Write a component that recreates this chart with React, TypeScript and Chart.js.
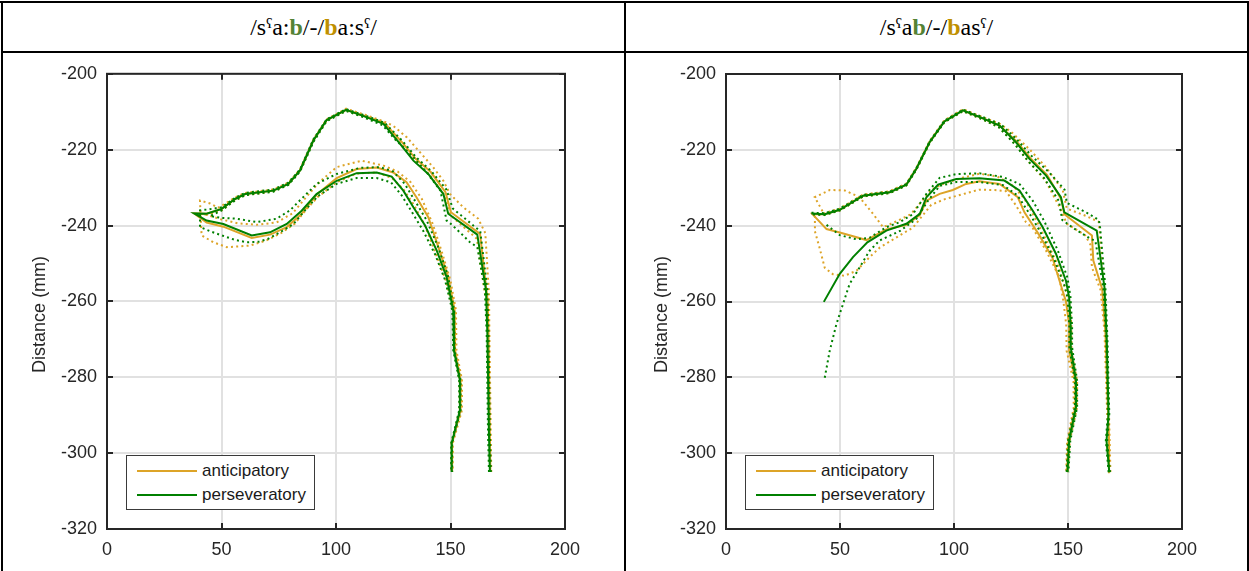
import React, { useEffect, useRef } from 'react';
import { Chart, registerables } from 'chart.js';
Chart.register(...registerables);

type P = [number, number];

const xTickValues = [0, 50, 100, 150, 200];
const xTickLabels = ['0', '50', '100', '150', '200'];
const yTickValues = [-320, -300, -280, -260, -240, -220, -200];
const yTickLabels = ['-320', '-300', '-280', '-260', '-240', '-220', '-200'];
const seriesNames = ['anticipatory', 'perseveratory'];
const yAxisTitle = 'Distance (mm)';

// ---------- LEFT PANEL  /sˤa:b/-/ba:sˤ/ ----------
const L_perMean: P[] = [[167.2,-305],[166.8,-295],[166.1,-268.5],[165.5,-257],[161.7,-242.4],[149,-236.9],[146.9,-231.7],[140.3,-226.4],[133.8,-222.9],[128,-218.5],[120.7,-213.2],[112.7,-211.3],[104.4,-209.5],[95.9,-212.2],[90.1,-217.6],[84.3,-225.5],[79.2,-229],[72.6,-230.8],[60.3,-231.7],[55.9,-233],[50.1,-235.6],[43.5,-236.9],[38,-236.8],[43.5,-238.7],[50.8,-239.6],[63.2,-242.6],[71.2,-241.8],[78.5,-239.6],[85,-236.1],[91.5,-231.7],[100.3,-228.2],[109,-226.2],[117.8,-226],[124.3,-227.1],[129.4,-230.8],[133.8,-235.2],[138.9,-240],[144,-246.6],[148.3,-253.6],[151.2,-262.4],[151.5,-272.9],[154.1,-280.8],[154.1,-288.7],[150.5,-297.4],[150.5,-305]];
const L_perHi: P[] = [[167.6,-305],[167.2,-295],[166.6,-268.5],[166.1,-257],[163,-241.5],[151,-235.5],[148.2,-230.5],[141.5,-225.6],[135,-222],[129,-217.7],[121.2,-212.9],[112.7,-211],[104.4,-209.3],[95.9,-212],[90.1,-217.3],[84.3,-225.2],[79.2,-228.7],[72.6,-230.5],[60.3,-231.4],[55.9,-232.7],[50.1,-235.2],[43.5,-235.8],[40.6,-236],[40.6,-240.4],[45,-241.5],[50.1,-242.6],[56,-243.8],[61,-244.4],[66,-244.3],[70.4,-243.5],[75.5,-241.8],[81.4,-239.6],[87.2,-235.5],[92,-232.3],[100.3,-229],[109,-227.5],[117.8,-227.5],[124,-228.6],[128.6,-232],[133,-236.3],[138,-241.3],[143.2,-247.5],[147.6,-254.3],[150.8,-262.4],[151.2,-272.9],[153.8,-280.8],[153.8,-288.7],[150.3,-297.4],[150.3,-305]];
const L_perLo: P[] = [[166.8,-305],[166.4,-295],[165.8,-268.5],[165,-257],[161.7,-245.7],[158.5,-244.4],[154.1,-241.8],[150,-239.5],[148.3,-238.7],[145.6,-230.8],[139.6,-226],[133.8,-222],[125,-216.8],[120.5,-213.6],[112.7,-211.6],[104.4,-209.8],[95.9,-212.5],[90.1,-218],[84.3,-225.8],[79.2,-229.3],[72.6,-231.1],[60.3,-232],[55.9,-233.4],[50.1,-236],[45,-237.5],[50,-238],[56.6,-238.2],[65.4,-239.1],[74.1,-238.2],[79.9,-236],[85.7,-232.5],[91.6,-229],[100.3,-226.4],[110.5,-224.8],[119.2,-224.6],[125,-225.8],[130,-229],[134.5,-233.5],[139.5,-238.5],[144.5,-245.5],[148.8,-253],[151.6,-262.4],[151.8,-272.9],[154.4,-280.8],[154.4,-288.7],[150.7,-297.4],[150.7,-305]];
const L_antMean: P[] = [[167.4,-305],[167.2,-295],[166.6,-268.5],[166.2,-259.7],[162.9,-242.2],[150.2,-236.5],[147.8,-231.2],[141.4,-225.9],[134.8,-222.4],[128.8,-218],[121.2,-213],[112.7,-211.2],[104.4,-209.5],[95.9,-212.2],[90.1,-217.6],[84.3,-225.5],[79.2,-229],[72.6,-230.8],[60.3,-231.7],[55.9,-233],[50.1,-235.6],[43.5,-236.9],[38,-236.8],[43.5,-239.2],[50.8,-240.3],[63.2,-243.3],[71.2,-242.4],[78.5,-240.4],[85,-236.9],[91.5,-231.9],[100.3,-227.5],[109,-225.1],[117.8,-224.7],[125,-226],[130.8,-228.6],[135.2,-232.6],[140.3,-237.8],[144.7,-245.7],[149,-253.6],[151.8,-262.4],[152,-272.9],[154.4,-280.8],[154.4,-288.7],[150.7,-297.4],[150.7,-305]];
const L_antHi: P[] = [[167.8,-305],[167.6,-295],[167,-268.5],[166.8,-258],[165.2,-242],[162.1,-238.2],[155.6,-235.2],[149.8,-231.7],[146.9,-228.2],[142.5,-224.7],[136.7,-220.7],[131,-216.8],[125,-213.7],[120.7,-212.5],[112.7,-210.8],[104.4,-209.2],[95.9,-212],[90.1,-217.3],[84.3,-225.2],[79.2,-228.7],[72.6,-230.5],[60.3,-231.4],[55.9,-232.6],[50.1,-234.8],[48.5,-235.3],[45,-234.2],[40.6,-233.4],[41.3,-242.6],[46.4,-244.4],[52.3,-245.7],[62.4,-245.3],[69.7,-243.9],[76,-242],[82,-239.5],[87,-235.8],[92,-232.5],[100.3,-228.6],[109,-226.3],[117.8,-226],[124.5,-227.5],[129.5,-230.5],[134,-234.5],[138.8,-240],[143.5,-247.3],[148,-254.5],[151.2,-262.4],[151.6,-272.9],[154,-280.8],[154,-288.7],[150.4,-297.4],[150.4,-305]];
const L_antLo: P[] = [[167.1,-305],[166.9,-295],[166.2,-268.5],[165.5,-260],[161.5,-243.5],[150,-237.3],[147.3,-232],[140.8,-226.5],[134.3,-222.9],[128.4,-218.4],[121,-213.3],[112.7,-211.5],[104.4,-209.7],[95.9,-212.4],[90.1,-217.8],[84.3,-225.7],[79.2,-229.2],[72.6,-231],[60.3,-232],[55.9,-233.3],[50.1,-236],[43.5,-237.2],[50,-238.4],[57,-239.4],[65.4,-239.8],[74,-239.2],[81,-236.8],[87,-232.5],[93,-228.4],[100.3,-224.6],[111.2,-222.9],[120.7,-224.2],[127,-225.8],[132.5,-228.5],[137.5,-233],[142.2,-239.5],[146.5,-247.5],[150,-254.5],[152.4,-262.4],[152.6,-272.9],[155,-280.8],[155,-288.7],[151,-297.4],[151,-305]];

// ---------- RIGHT PANEL  /sˤab/-/basˤ/ ----------
const R_perMeanUpper: P[] = [[168.1,-305],[166.9,-296.7],[167.8,-289.7],[167,-270],[166,-256.3],[162.6,-241.3],[148.4,-236.5],[146.9,-232.5],[140.4,-226.8],[133.1,-222.4],[127.2,-218],[120,-213.6],[111.9,-211.5],[103.9,-209.6],[95.8,-212.5],[89.3,-218],[83.5,-225],[79.1,-229.2],[71.8,-231.2],[60.1,-232.1],[49.9,-235.8],[43.3,-237],[37.5,-236.8]];
const R_perMeanLower: P[] = [[42.9,-260.1],[49.9,-252.7],[55.7,-248.3],[62,-244.4],[70.3,-241.3],[79.1,-239.5],[85,-236.9],[87.9,-232.5],[93,-229.2],[101,-227.7],[111.2,-227.5],[122.1,-228.1],[128.7,-230.7],[134.5,-236],[138.9,-240.4],[144.7,-247.4],[149.1,-254.5],[150.5,-258.9],[151.2,-266.8],[151.2,-272.1],[153.5,-280.9],[153.5,-287.9],[150.5,-296.7],[149.8,-305]];
const R_perHiUpper: P[] = [[168.4,-305],[167.2,-296.7],[168.1,-289.7],[167.3,-270],[166.4,-256.3],[164,-240],[163.5,-238.5],[158,-236.5],[149.5,-234],[148.5,-230.5],[141.5,-225.8],[134,-221.6],[127.8,-217.4],[120.4,-213.2],[111.9,-211.2],[103.9,-209.4],[95.8,-212.3],[89.3,-217.8],[83.5,-224.8],[79.1,-229],[71.8,-231],[60.1,-231.9],[49.9,-235.5],[43.3,-236.7],[37.5,-236.6]];
const R_perLoUpper: P[] = [[167.8,-305],[166.6,-296.7],[167.5,-289.7],[166.7,-270],[165.5,-256.3],[162,-244],[160,-243.5],[152,-240.5],[147.5,-238.5],[146,-233.5],[139.6,-227.5],[132.5,-223],[126.6,-218.5],[119.6,-214],[111.9,-211.8],[103.9,-209.8],[95.8,-212.7],[89.3,-218.2],[83.5,-225.2],[79.1,-229.4],[71.8,-231.4],[60.1,-232.3],[49.9,-236],[43.3,-237.2],[37.5,-237]];
const R_perHiLower: P[] = [[43.3,-280.1],[45.5,-273],[48.4,-266],[51.3,-260.7],[54.2,-255.4],[58.6,-251],[63,-246.6],[67.4,-243.9],[76.3,-241.4],[83.5,-238.2],[88.5,-233.5],[93.7,-229.5],[101,-228.5],[111.2,-228.5],[121.5,-229.3],[127.8,-232],[133.5,-237.2],[137.8,-241.6],[143.7,-248.5],[148.3,-255.5],[149.8,-259],[150.6,-266.8],[150.6,-272.1],[153,-280.9],[153,-287.9],[150,-296.7],[149.4,-305]];
const R_perLoLower: P[] = [[44.1,-239.8],[49.9,-242.5],[57.2,-243.6],[63,-243.2],[70.3,-240.4],[76.1,-239.1],[81.9,-237],[87.9,-231.6],[93.7,-227.4],[101,-226.4],[111.2,-226.2],[121.2,-227.1],[128.7,-229],[134.5,-233.4],[139.5,-238.7],[145.5,-246.5],[149.8,-253.8],[151.1,-258.9],[151.8,-266.8],[151.8,-272.1],[154,-280.9],[154,-287.9],[151,-296.7],[150.2,-305]];
const R_antMean: P[] = [[168.3,-305],[168,-297],[167.6,-290],[166.4,-268],[165,-256.7],[161.1,-249.2],[160.5,-242.6],[148.4,-237],[147,-233],[140.8,-226.6],[133.5,-222.2],[127.5,-217.8],[120,-213.6],[111.9,-211.5],[103.9,-209.6],[95.8,-212.5],[89.3,-218],[83.5,-225],[79.1,-229.2],[71.8,-231.2],[60.1,-232.1],[49.9,-235.8],[43.3,-237],[37.8,-236.9],[44.1,-240.9],[49.9,-241.8],[61.6,-243.8],[70.3,-241],[79.1,-239.8],[85,-237.2],[87.9,-233.4],[93.7,-231.6],[99.5,-230.6],[105.3,-229],[111.2,-228.3],[120,-229],[128,-232.5],[130.9,-236.5],[137.4,-242.5],[143.2,-248.5],[147.6,-257.1],[149.1,-260],[150.5,-265.9],[150.5,-273],[153.2,-280.9],[153.2,-287.9],[150.2,-296.7],[149.6,-305]];
const R_antHi: P[] = [[168.6,-305],[168.3,-297],[168,-290],[166.8,-268],[166,-257],[164.5,-246],[163.5,-239],[157.8,-237.4],[149.5,-235.5],[147.7,-230.7],[140.4,-224.6],[133,-219.8],[125.5,-215.5],[120.4,-213.2],[111.9,-211.2],[103.9,-209.3],[95.8,-212.2],[89.3,-217.7],[83.5,-224.7],[79.1,-228.9],[71.8,-230.9],[60.1,-231.8],[49.9,-235.5],[43.3,-236.7],[39,-237.5],[39,-241.5],[41.1,-246],[43.3,-251.1],[46.9,-252.8],[52,-253.2],[57.2,-251.9],[63,-248.3],[67.4,-245.8],[75,-243],[82,-240.5],[86,-237.5],[90,-234.5],[96,-233],[105,-231.5],[111,-230.5],[118,-230.6],[122.8,-230.9],[127,-234.5],[131.6,-239.1],[134.5,-240.6],[140.4,-246.6],[146.2,-253.6],[148,-260],[149.2,-266],[149.4,-273],[152.4,-281],[152.5,-288],[149.6,-297],[149.2,-305]];
const R_antLo: P[] = [[168,-305],[167.7,-297],[167.2,-290],[166,-268],[164.3,-257],[160.5,-251],[159.8,-245],[157.5,-242.5],[149.5,-239.5],[146.2,-235],[140,-228],[133,-223.3],[127,-218.6],[119.6,-214],[111.9,-211.8],[103.9,-209.8],[95.8,-212.7],[89.3,-218.2],[83.5,-225.2],[79.1,-229.4],[71.8,-231.4],[60.1,-232.3],[49.9,-236],[43.3,-237.2],[38.9,-232.5],[45.5,-230.6],[52.1,-230.7],[58.6,-232.5],[64.5,-236.9],[68.9,-240.4],[75,-238.8],[81,-237],[86,-233.5],[90,-230.5],[96,-228.8],[104,-227.3],[111.2,-226.3],[119,-227],[126,-229.5],[131,-233],[136,-238.5],[141,-244.5],[146,-251],[149.5,-258],[150.4,-260],[151.5,-265.9],[151.5,-273],[154,-280.9],[154,-287.9],[150.8,-296.7],[150,-305]];

const ANT = '#DDA428';
const PER = '#008000';
const FONT = "'Liberation Sans', Arial, Helvetica, sans-serif";
const INK = '#262626';

type Line = { pts: P[]; color: string; dotted: boolean };

function toDataset(l: Line) {
  return {
    data: l.pts.map((p) => ({ x: p[0], y: p[1] })),
    borderColor: l.color,
    backgroundColor: l.color,
    borderWidth: 2,
    borderDash: l.dotted ? [2, 3.2] : [],
    pointRadius: 0,
    showLine: true,
    fill: false,
    tension: 0,
  };
}

const frame = {
  id: 'frame',
  afterDraw(chart: any) {
    const { ctx, chartArea: a, scales } = chart;
    ctx.save();
    ctx.strokeStyle = INK;
    ctx.lineWidth = 2;
    ctx.beginPath();
    for (const v of xTickValues) {
      const px = Math.round(scales.x.getPixelForValue(v));
      ctx.moveTo(px, a.bottom); ctx.lineTo(px, a.bottom - 6);
      ctx.moveTo(px, a.top); ctx.lineTo(px, a.top + 6);
    }
    for (const v of yTickValues) {
      const py = Math.round(scales.y.getPixelForValue(v));
      ctx.moveTo(a.left, py); ctx.lineTo(a.left + 6, py);
      ctx.moveTo(a.right, py); ctx.lineTo(a.right - 6, py);
    }
    ctx.stroke();
    ctx.strokeRect(a.left, a.top, a.right - a.left, a.bottom - a.top);
    ctx.fillStyle = INK;
    ctx.font = `18px ${FONT}`;
    ctx.textAlign = 'center';
    ctx.textBaseline = 'middle';
    ctx.translate(a.left - (chart.options.plugins.frame?.labelOffset ?? 66), (a.top + a.bottom) / 2 + 13);
    ctx.rotate(-Math.PI / 2);
    ctx.fillText(yAxisTitle, 0, 0);
    ctx.restore();
  },
};

function Panel(props: { lines: Line[]; w: number; h: number; area: { l: number; t: number; r: number; b: number }; labelOffset: number }) {
  const ref = useRef<HTMLCanvasElement>(null);
  useEffect(() => {
    const { w, h, area } = props;
    const chart = new Chart(ref.current as HTMLCanvasElement, {
      type: 'scatter',
      data: { datasets: props.lines.map(toDataset) as any },
      options: {
        animation: false,
        responsive: false,
        devicePixelRatio: 1,
        layout: { padding: { left: 0, top: area.t, right: w - area.r, bottom: 0 } },
        plugins: { legend: { display: false }, tooltip: { enabled: false }, frame: { labelOffset: props.labelOffset } } as any,
        scales: {
          x: {
            type: 'linear',
            min: 0,
            max: 200,
            afterFit: (s: any) => { s.height = h - area.b; },
            afterBuildTicks: (s: any) => { s.ticks = xTickValues.map((v) => ({ value: v })); },
            ticks: {
              padding: 10,
              color: INK,
              font: { family: FONT, size: 18 },
              callback: (v: any) => xTickLabels[xTickValues.indexOf(Number(v))] ?? '',
              maxRotation: 0,
              autoSkip: false,
            },
            grid: { color: '#E1E1E1', lineWidth: 2, drawTicks: false },
            border: { display: false },
          },
          y: {
            type: 'linear',
            min: -320,
            max: -200,
            afterFit: (s: any) => { s.width = area.l; },
            afterBuildTicks: (s: any) => { s.ticks = yTickValues.map((v) => ({ value: v })); },
            ticks: {
              padding: 10,
              color: INK,
              font: { family: FONT, size: 18 },
              callback: (v: any) => yTickLabels[yTickValues.indexOf(Number(v))] ?? '',
              autoSkip: false,
            },
            grid: { color: '#E1E1E1', lineWidth: 2, drawTicks: false },
            border: { display: false },
          },
        },
      },
      plugins: [frame],
    });
    return () => chart.destroy();
  }, []);
  return <canvas ref={ref} width={props.w} height={props.h} style={{ width: props.w, height: props.h, display: 'block' }} />;
}

const GREEN_B = '#548235';
const GOLD_B = '#BF9000';

function Title(props: { first: string; second: string }) {
  // renders /sˤ{first}b/-/b{second}sˤ/
  const b = (c: string) => <span style={{ color: c, fontWeight: 'bold' }}>b</span>;
  return (
    <span>
      /s<span>ˤ</span>{props.first}{b(GREEN_B)}/-/{b(GOLD_B)}{props.second}s<span>ˤ</span>/
    </span>
  );
}

function Legend(props: { left: number; top: number }) {
  const row = (name: string, color: string, y: number) => (
    <div style={{ position: 'absolute', left: 0, top: y, height: 24, width: '100%' }}>
      <div style={{ position: 'absolute', left: 10, top: 11, width: 60, height: 2, background: color }} />
      <div style={{ position: 'absolute', left: 75, top: 0, lineHeight: '24px', fontSize: 17, fontFamily: FONT, color: '#1a1a1a', whiteSpace: 'nowrap' }}>{name}</div>
    </div>
  );
  return (
    <div style={{ position: 'absolute', left: props.left, top: props.top, width: 187, height: 53, border: '1px solid #3a3a3a', background: '#fff' }}>
      {row(seriesNames[0], ANT, 3)}
      {row(seriesNames[1], PER, 27)}
    </div>
  );
}

const leftLines: Line[] = [
  { pts: L_perLo, color: PER, dotted: true },
  { pts: L_perHi, color: PER, dotted: true },
  { pts: L_perMean, color: PER, dotted: false },
  { pts: L_antLo, color: ANT, dotted: true },
  { pts: L_antHi, color: ANT, dotted: true },
  { pts: L_antMean, color: ANT, dotted: false },
];
const rightLines: Line[] = [
  { pts: R_perLoUpper, color: PER, dotted: true },
  { pts: R_perHiUpper, color: PER, dotted: true },
  { pts: R_perLoLower, color: PER, dotted: true },
  { pts: R_perHiLower, color: PER, dotted: true },
  { pts: R_perMeanUpper, color: PER, dotted: false },
  { pts: R_perMeanLower, color: PER, dotted: false },
  { pts: R_antLo, color: ANT, dotted: true },
  { pts: R_antHi, color: ANT, dotted: true },
  { pts: R_antMean, color: ANT, dotted: false },
];

export default function App() {
  const line = (l: number, t: number, w: number, h: number) => (
    <div style={{ position: 'absolute', left: l, top: t, width: w, height: h, background: '#000' }} />
  );
  const titleStyle: React.CSSProperties = {
    position: 'absolute', top: 3, height: 48, display: 'flex', alignItems: 'center', justifyContent: 'center',
    fontFamily: "'Liberation Serif', 'Times New Roman', 'DejaVu Serif', serif", fontSize: 24, color: '#000',
  };
  return (
    <div style={{ position: 'absolute', left: 0, top: 0, width: 1249, height: 571, background: '#fff', overflow: 'hidden' }}>
      <div style={{ ...titleStyle, left: 3, width: 621 }}><Title first="a:" second="a:" /></div>
      <div style={{ ...titleStyle, left: 626, width: 621 }}><Title first="a" second="a" /></div>
      <div style={{ position: 'absolute', left: 3, top: 53 }}>
        <Panel lines={leftLines} w={621} h={518} area={{ l: 104, t: 20, r: 562, b: 476 }} labelOffset={67} />
      </div>
      <div style={{ position: 'absolute', left: 626, top: 53 }}>
        <Panel lines={rightLines} w={621} h={518} area={{ l: 100, t: 21, r: 556, b: 476 }} labelOffset={64} />
      </div>
      <Legend left={126} top={455} />
      <Legend left={745} top={455} />
      {line(0, 1, 1249, 2)}
      {line(1, 1, 2, 570)}
      {line(1247, 1, 2, 570)}
      {line(624, 1, 2, 570)}
      {line(1, 51, 1248, 2)}
    </div>
  );
}
